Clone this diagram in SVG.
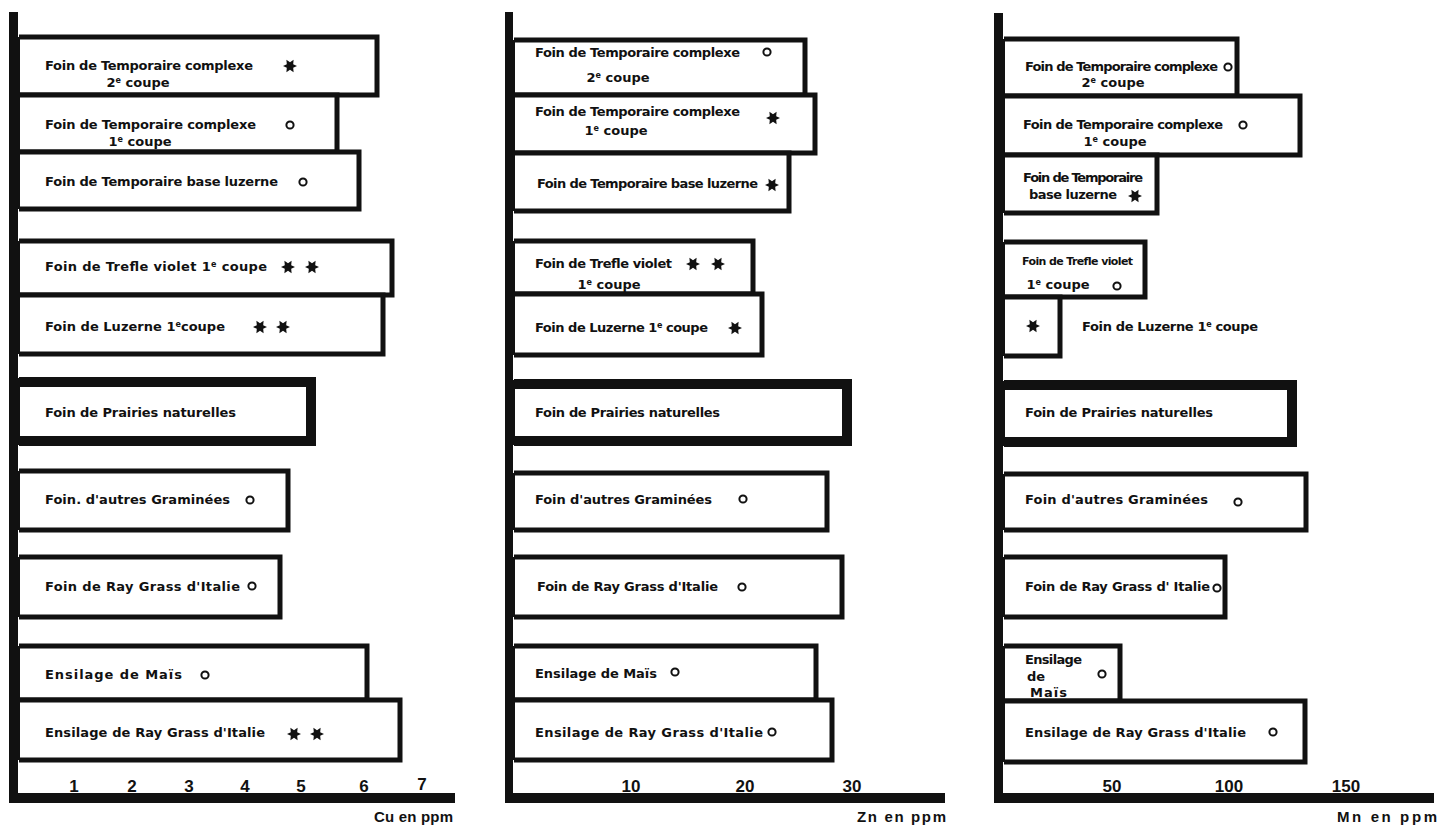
<svg xmlns="http://www.w3.org/2000/svg" width="1440" height="830" viewBox="0 0 1440 830">
<style>
.bar{fill:#fff;stroke:#111;stroke-width:5;stroke-linejoin:miter}
.thk{stroke-width:10}
.bl{fill:none;stroke:#111;stroke-width:2}
.ax{fill:#111}
.lb{font-family:"DejaVu Sans",sans-serif;font-weight:bold;font-size:13px;fill:#111}
.sm{font-size:11px}
.ct{text-anchor:middle}
.tk{font-family:"Liberation Sans",Arial,sans-serif;font-weight:bold;font-size:17px;fill:#111;text-anchor:middle}
.un{font-family:"Liberation Sans",Arial,sans-serif;font-weight:bold;font-size:15px;fill:#111}
.ring{fill:none;stroke:#111;stroke-width:2}
.star{fill:#111}
</style>
<defs>
<path id="star" class="star" d="M7,0 L3.2,1.8 L3.6,6.2 L0,3.7 L-3.6,6.2 L-3.2,1.8 L-7,0 L-3.2,-1.8 L-3.6,-6.2 L0,-3.7 L3.6,-6.2 L3.2,-1.8 Z"/>
<circle id="ring" class="ring" r="3.6"/>
</defs>
<rect width="1440" height="830" fill="#fff"/>

<!-- ===== Panel Cu ===== -->
<g id="cu-b1"><path class="bar" d="M19,37 H377 V95 H19"/><path class="bl" d="M19,37 V95"/>
<text class="lb" x="45" y="70" textLength="208">Foin de Temporaire complexe</text>
<text class="lb ct" x="138" y="87">2<tspan dy="-4" font-size="8">e</tspan><tspan dy="4"> coupe</tspan></text>
<use href="#star" x="290" y="66"/></g>
<g id="cu-b2"><path class="bar" d="M19,95 H337 V152 H19"/><path class="bl" d="M19,95 V152"/>
<text class="lb" x="45" y="129" textLength="211">Foin de Temporaire complexe</text>
<text class="lb ct" x="140" y="146">1<tspan dy="-4" font-size="8">e</tspan><tspan dy="4"> coupe</tspan></text>
<use href="#ring" x="290" y="125"/></g>
<g id="cu-b3"><path class="bar" d="M19,152 H359 V209 H19"/><path class="bl" d="M19,152 V209"/>
<text class="lb" x="45" y="186" textLength="233">Foin de Temporaire base luzerne</text>
<use href="#ring" x="303" y="182"/></g>
<g id="cu-b4"><path class="bar" d="M19,241 H392 V295 H19"/><path class="bl" d="M19,241 V295"/>
<text class="lb" x="45" y="271" textLength="222">Foin de Trefle violet 1<tspan dy="-4" font-size="8">e</tspan><tspan dy="4"> coupe</tspan></text>
<use href="#star" x="288" y="267"/><use href="#star" x="312" y="267"/></g>
<g id="cu-b5"><path class="bar" d="M19,295 H383 V354 H19"/><path class="bl" d="M19,295 V354"/>
<text class="lb" x="45" y="331" textLength="180">Foin de Luzerne 1<tspan dy="-4" font-size="8">e</tspan><tspan dy="4">coupe</tspan></text>
<use href="#star" x="260" y="327"/><use href="#star" x="283" y="327"/></g>
<g id="cu-b6"><path class="bar thk" d="M19,382 H311 V441 H19"/><path class="bl" d="M19,378 V445"/>
<text class="lb" x="45" y="417" textLength="191">Foin de Prairies naturelles</text></g>
<g id="cu-b7"><path class="bar" d="M19,471 H288 V530 H19"/><path class="bl" d="M19,471 V530"/>
<text class="lb" x="45" y="504" textLength="185">Foin. d'autres Graminées</text>
<use href="#ring" x="250" y="500"/></g>
<g id="cu-b8"><path class="bar" d="M19,557 H280 V617 H19"/><path class="bl" d="M19,557 V617"/>
<text class="lb" x="45" y="591" textLength="195">Foin de Ray Grass d'Italie</text>
<use href="#ring" x="252" y="586"/></g>
<g id="cu-b9"><path class="bar" d="M19,646 H367 V700 H19"/><path class="bl" d="M19,646 V700"/>
<text class="lb" x="45" y="679" textLength="137">Ensilage de Maïs</text>
<use href="#ring" x="205" y="675"/></g>
<g id="cu-b10"><path class="bar" d="M19,700 H400 V760 H19"/><path class="bl" d="M19,700 V760"/>
<text class="lb" x="45" y="737" textLength="220">Ensilage de Ray Grass d'Italie</text>
<use href="#star" x="294" y="734"/><use href="#star" x="317" y="734"/></g>

<!-- ===== Panel Zn ===== -->
<g id="zn-b1"><path class="bar" d="M514,40 H805 V95 H514"/><path class="bl" d="M514,40 V95"/>
<text class="lb" x="535" y="57" textLength="205">Foin de Temporaire complexe</text>
<text class="lb ct" x="618" y="82">2<tspan dy="-4" font-size="8">e</tspan><tspan dy="4"> coupe</tspan></text>
<use href="#ring" x="767" y="52"/></g>
<g id="zn-b2"><path class="bar" d="M514,95 H815 V153 H514"/><path class="bl" d="M514,95 V153"/>
<text class="lb" x="535" y="116" textLength="205">Foin de Temporaire complexe</text>
<text class="lb ct" x="616" y="135">1<tspan dy="-4" font-size="8">e</tspan><tspan dy="4"> coupe</tspan></text>
<use href="#star" x="773" y="118"/></g>
<g id="zn-b3"><path class="bar" d="M514,153 H789 V211 H514"/><path class="bl" d="M514,153 V211"/>
<text class="lb" x="537" y="188" textLength="221">Foin de Temporaire base luzerne</text>
<use href="#star" x="772" y="185"/></g>
<g id="zn-b4"><path class="bar" d="M514,241 H753 V294 H514"/><path class="bl" d="M514,241 V294"/>
<text class="lb" x="535" y="268" textLength="137">Foin de Trefle violet</text>
<text class="lb ct" x="609" y="289">1<tspan dy="-4" font-size="8">e</tspan><tspan dy="4"> coupe</tspan></text>
<use href="#star" x="693" y="264"/><use href="#star" x="718" y="264"/></g>
<g id="zn-b5"><path class="bar" d="M514,294 H762 V355 H514"/><path class="bl" d="M514,294 V355"/>
<text class="lb" x="535" y="332" textLength="173">Foin de Luzerne 1<tspan dy="-4" font-size="8">e</tspan><tspan dy="4"> coupe</tspan></text>
<use href="#star" x="735" y="328"/></g>
<g id="zn-b6"><path class="bar thk" d="M514,384 H847 V441 H514"/><path class="bl" d="M514,380 V445"/>
<text class="lb" x="535" y="417" textLength="185">Foin de Prairies naturelles</text></g>
<g id="zn-b7"><path class="bar" d="M514,473 H827 V530 H514"/><path class="bl" d="M514,473 V530"/>
<text class="lb" x="535" y="504" textLength="177">Foin d'autres Graminées</text>
<use href="#ring" x="743" y="499"/></g>
<g id="zn-b8"><path class="bar" d="M514,557 H842 V617 H514"/><path class="bl" d="M514,557 V617"/>
<text class="lb" x="537" y="591" textLength="181">Foin de Ray Grass d'Italie</text>
<use href="#ring" x="742" y="587"/></g>
<g id="zn-b9"><path class="bar" d="M514,646 H816 V700 H514"/><path class="bl" d="M514,646 V700"/>
<text class="lb" x="535" y="678" textLength="122">Ensilage de Maïs</text>
<use href="#ring" x="675" y="672"/></g>
<g id="zn-b10"><path class="bar" d="M514,700 H832 V760 H514"/><path class="bl" d="M514,700 V760"/>
<text class="lb" x="535" y="737" textLength="228">Ensilage de Ray Grass d'Italie</text>
<use href="#ring" x="772" y="732"/></g>

<!-- ===== Panel Mn ===== -->
<g id="mn-b1"><path class="bar" d="M1004,39 H1237 V96 H1004"/><path class="bl" d="M1004,39 V96"/>
<text class="lb" x="1025" y="71" textLength="193">Foin de Temporaire complexe</text>
<text class="lb ct" x="1113" y="87">2<tspan dy="-4" font-size="8">e</tspan><tspan dy="4"> coupe</tspan></text>
<use href="#ring" x="1228" y="67"/></g>
<g id="mn-b2"><path class="bar" d="M1004,96 H1300 V155 H1004"/><path class="bl" d="M1004,96 V155"/>
<text class="lb" x="1023" y="129" textLength="200">Foin de Temporaire complexe</text>
<text class="lb ct" x="1115" y="146">1<tspan dy="-4" font-size="8">e</tspan><tspan dy="4"> coupe</tspan></text>
<use href="#ring" x="1243" y="125"/></g>
<g id="mn-b3"><path class="bar" d="M1004,155 H1157 V213 H1004"/><path class="bl" d="M1004,155 V213"/>
<text class="lb" x="1023" y="182" textLength="120">Foin de Temporaire</text>
<text class="lb" x="1029" y="199" textLength="88">base luzerne</text>
<use href="#star" x="1135" y="196"/></g>
<g id="mn-b4"><path class="bar" d="M1004,242 H1145 V297 H1004"/><path class="bl" d="M1004,242 V297"/>
<text class="lb sm" x="1022" y="265" textLength="111">Foin de Trefle violet</text>
<text class="lb ct" x="1058" y="289">1<tspan dy="-4" font-size="8">e</tspan><tspan dy="4"> coupe</tspan></text>
<use href="#ring" x="1117" y="286"/></g>
<g id="mn-b5"><path class="bar" d="M1004,297 H1060 V356 H1004"/><path class="bl" d="M1004,297 V356"/>
<use href="#star" x="1033" y="326"/>
<text class="lb" x="1082" y="331" textLength="176">Foin de Luzerne 1<tspan dy="-4" font-size="8">e</tspan><tspan dy="4"> coupe</tspan></text></g>
<g id="mn-b6"><path class="bar thk" d="M1004,385 H1292 V442 H1004"/><path class="bl" d="M1004,381 V446"/>
<text class="lb" x="1025" y="417" textLength="188">Foin de Prairies naturelles</text></g>
<g id="mn-b7"><path class="bar" d="M1004,474 H1306 V530 H1004"/><path class="bl" d="M1004,474 V530"/>
<text class="lb" x="1025" y="504" textLength="183">Foin d'autres Graminées</text>
<use href="#ring" x="1238" y="502"/></g>
<g id="mn-b8"><path class="bar" d="M1004,557 H1225 V617 H1004"/><path class="bl" d="M1004,557 V617"/>
<text class="lb" x="1025" y="591" textLength="185">Foin de Ray Grass d' Italie</text>
<use href="#ring" x="1217" y="588"/></g>
<g id="mn-b9"><path class="bar" d="M1004,646 H1120 V701 H1004"/><path class="bl" d="M1004,646 V701"/>
<text class="lb" x="1025" y="664" textLength="57">Ensilage</text>
<text class="lb ct" x="1036" y="681">de</text>
<text class="lb" x="1030" y="697" textLength="37">Maïs</text>
<use href="#ring" x="1102" y="674"/></g>
<g id="mn-b10"><path class="bar" d="M1004,701 H1305 V762 H1004"/><path class="bl" d="M1004,701 V762"/>
<text class="lb" x="1025" y="737" textLength="221">Ensilage de Ray Grass d'Italie</text>
<use href="#ring" x="1273" y="732"/></g>

<!-- ===== Axes ===== -->
<g id="axes">
<rect class="ax" x="9" y="12" width="9" height="791"/>
<rect class="ax" x="9" y="793" width="446" height="10"/>
<rect class="ax" x="505" y="12" width="8" height="791"/>
<rect class="ax" x="505" y="793" width="440" height="10"/>
<rect class="ax" x="994" y="13" width="9" height="790"/>
<rect class="ax" x="994" y="793" width="440" height="10"/>
<text class="tk" x="74" y="792">1</text>
<text class="tk" x="132" y="792">2</text>
<text class="tk" x="189" y="792">3</text>
<text class="tk" x="245" y="792">4</text>
<text class="tk" x="301" y="792">5</text>
<text class="tk" x="364" y="792">6</text>
<text class="tk" x="422" y="790">7</text>
<text class="un" x="374" y="822" textLength="79">Cu en ppm</text>
<text class="tk" x="631" y="792">10</text>
<text class="tk" x="745" y="792">20</text>
<text class="tk" x="852" y="792">30</text>
<text class="un" x="857" y="822" textLength="89">Zn en ppm</text>
<text class="tk" x="1112" y="792">50</text>
<text class="tk" x="1229" y="792">100</text>
<text class="tk" x="1346" y="792">150</text>
<text class="un" x="1337" y="822" textLength="100">Mn en ppm</text>
</g>
</svg>
